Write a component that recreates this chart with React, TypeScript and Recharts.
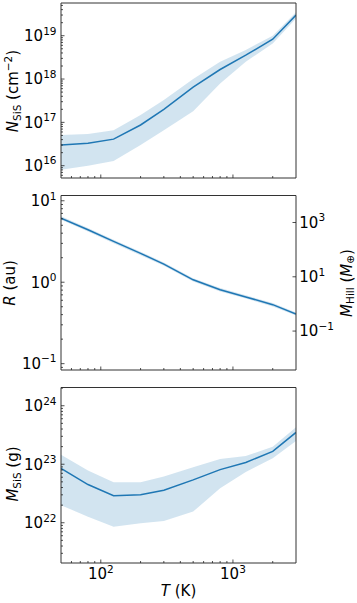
import React from "react";
import { ComposedChart, Line, Area, XAxis, YAxis } from "recharts";

// ---------------- data ----------------
const temperatureK = [50, 80, 125, 200, 300, 500, 800, 1250, 2000, 3000];

const columnDensity = [3.0e16, 3.3e16, 4.1e16, 8.7e16, 2.0e17, 6.5e17, 1.66e18, 3.55e18, 8.3e18, 3.0e19];
const columnDensityHigh = [5.1e16, 5.4e16, 6.6e16, 1.48e17, 3.3e17, 1.0e18, 2.5e18, 4.7e18, 1.0e19, 3.5e19];
const columnDensityLow = [8.1e15, 1.0e16, 1.29e16, 3.0e16, 6.6e16, 1.8e17, 7.9e17, 2.5e18, 6.6e18, 2.5e19];

const radiusAu = [6.13, 4.41, 3.17, 2.26, 1.67, 1.07, 0.81, 0.66, 0.53, 0.407];
const radiusHigh = [6.45, 4.63, 3.33, 2.37, 1.75, 1.12, 0.85, 0.69, 0.555, 0.425];
const radiusLow = [5.85, 4.2, 3.02, 2.15, 1.59, 1.02, 0.77, 0.63, 0.505, 0.39];

const massG = [8.5e22, 4.5e22, 2.9e22, 3.0e22, 3.6e22, 5.4e22, 8.1e22, 1.07e23, 1.66e23, 3.5e23];
const massHigh = [1.45e23, 7.8e22, 4.9e22, 4.9e22, 6.2e22, 8.9e22, 1.23e23, 1.38e23, 2.0e23, 4.3e23];
const massLow = [2.0e22, 1.26e22, 8.5e21, 9.8e21, 1.07e22, 1.55e22, 3.9e22, 7.4e22, 1.26e23, 2.5e23];

// tick values
const xMajorTicks = [100, 1000];
const densityMajorTicks = [1e16, 1e17, 1e18, 1e19];
const radiusMajorTicks = [0.1, 1, 10];
const hillMajorTicks = [0.1, 10, 1000];
const massMajorTicks = [1e22, 1e23, 1e24];

// axis ranges
const X_DOMAIN: [number, number] = [50, 3000];
const DENSITY_DOMAIN: [number, number] = [5.2e15, 5.69e19];
const RADIUS_DOMAIN: [number, number] = [0.0836, 11.61];
const HILL_DOMAIN: [number, number] = [0.00368, 9886];
const MASS_DOMAIN: [number, number] = [2.05e21, 2.05e24];

// ---------------- helpers ----------------
const W = 357;
const H = 603;
const LEFT_W = 61;
const RIGHT_W = 61;
const FONT = "DejaVu Sans, sans-serif";
const TICK_COLOR = "#222";
const BLUE = "#1f77b4";
const axisLineStyle = { stroke: "#333", strokeWidth: 1 };

function isMajor(v: number) {
  const l = Math.log10(v);
  return Math.abs(l - Math.round(l)) < 1e-6;
}

function withMinors(majors: number[], domain: [number, number]) {
  const out: number[] = [...majors];
  const lo = Math.floor(Math.log10(domain[0]));
  const hi = Math.ceil(Math.log10(domain[1]));
  for (let d = lo; d <= hi; d++) {
    for (let m = 2; m <= 9; m++) {
      const v = m * Math.pow(10, d);
      if (v > domain[0] && v < domain[1]) out.push(v);
    }
  }
  return out.sort((a, b) => a - b);
}

function buildRows(mid: number[], lo: number[], hi: number[]) {
  return temperatureK.map((T, i) => ({ T, mid: mid[i], lo: lo[i], hi: hi[i] }));
}

const densityRows = buildRows(columnDensity, columnDensityLow, columnDensityHigh);
const radiusRows = buildRows(radiusAu, radiusLow, radiusHigh);
const massRows = buildRows(massG, massLow, massHigh);

function expText(v: number) {
  const e = Math.round(Math.log10(v));
  return e < 0 ? "\u2212" + String(-e) : String(e);
}

function PowerLabel({ x, y, anchor, v }: { x: number; y: number; anchor: string; v: number }) {
  return (
    <text x={x} y={y} textAnchor={anchor as any} fontSize={15} fontFamily={FONT} fill="#000">
      <tspan>10</tspan>
      <tspan dy={-6.5} fontSize={10.5}>
        {expText(v)}
      </tspan>
    </text>
  );
}

function LeftTick(props: any) {
  const { x, y, payload } = props;
  const v = payload.value;
  const major = isMajor(v);
  const len = major ? 3.5 : 2;
  return (
    <g>
      <line x1={x} y1={y} x2={x + len} y2={y} stroke={TICK_COLOR} strokeWidth={0.8} />
      {major && <PowerLabel x={x - 4.5} y={y + 5.3} anchor="end" v={v} />}
    </g>
  );
}

function RightTick(props: any) {
  const { x, y, payload } = props;
  const v = payload.value;
  const major = isMajor(v);
  const len = major ? 3.5 : 2;
  return (
    <g>
      <line x1={x} y1={y} x2={x - len} y2={y} stroke={TICK_COLOR} strokeWidth={0.8} />
      {major && <PowerLabel x={x + 3.3} y={y + 5.3} anchor="start" v={v} />}
    </g>
  );
}

function makeBottomTick(showLabels: boolean) {
  return (props: any) => {
    const { x, y, payload } = props;
    const v = payload.value;
    const major = isMajor(v);
    const len = major ? 3.5 : 2;
    return (
      <g>
        <line x1={x} y1={y} x2={x} y2={y - len} stroke={TICK_COLOR} strokeWidth={0.8} />
        {major && showLabels && <PowerLabel x={x} y={y + 16} anchor="middle" v={v} />}
      </g>
    );
  };
}

const xTicks = withMinors(xMajorTicks, X_DOMAIN);

type PanelProps = {
  top: number;
  bottom: number;
  data: any[];
  yDomain: [number, number];
  yMajor: number[];
  yTitle: () => React.ReactElement;
  showXLabels: boolean;
  rightDomain?: [number, number];
  rightMajor?: number[];
  rightTitle?: () => React.ReactElement;
  xTitle?: () => React.ReactElement;
};

function Panel(p: PanelProps) {
  const yTicks = withMinors(p.yMajor, p.yDomain);
  return (
    <div style={{ position: "absolute", left: 0, top: 0, width: W, height: H }}>
      <ComposedChart
        width={W}
        height={H}
        data={p.data}
        margin={{ top: p.top - 1, bottom: H - p.bottom - 1, left: 0, right: 0 }}
      >
        <XAxis
          xAxisId="x"
          dataKey="T"
          type="number"
          scale="log"
          domain={X_DOMAIN}
          allowDataOverflow
          ticks={xTicks}
          interval={0}
          height={1}
          tickSize={0}
          tickMargin={0}
          tickLine={false}
          axisLine={axisLineStyle}
          tick={makeBottomTick(p.showXLabels)}
          label={p.xTitle ? { content: p.xTitle } : undefined}
        />
        <XAxis
          xAxisId="top"
          orientation="top"
          type="number"
          scale="log"
          domain={X_DOMAIN}
          allowDataOverflow
          height={1}
          tick={false}
          tickLine={false}
          axisLine={axisLineStyle}
        />
        <YAxis
          yAxisId="y"
          type="number"
          scale="log"
          domain={p.yDomain}
          allowDataOverflow
          ticks={yTicks}
          interval={0}
          width={LEFT_W}
          tickSize={0}
          tickMargin={0}
          tickLine={false}
          axisLine={axisLineStyle}
          tick={LeftTick}
          label={{ content: p.yTitle }}
        />
        {p.rightDomain ? (
          <YAxis
            yAxisId="r"
            orientation="right"
            type="number"
            scale="log"
            domain={p.rightDomain}
            allowDataOverflow
            ticks={p.rightMajor}
            interval={0}
            width={RIGHT_W}
            tickSize={0}
            tickMargin={0}
            tickLine={false}
            axisLine={axisLineStyle}
            tick={RightTick}
            label={p.rightTitle ? { content: p.rightTitle } : undefined}
          />
        ) : (
          <YAxis
            yAxisId="r"
            orientation="right"
            type="number"
            domain={[0, 1]}
            width={RIGHT_W}
            tick={false}
            tickLine={false}
            axisLine={axisLineStyle}
          />
        )}
        <Area
          xAxisId="x"
          yAxisId="y"
          type="linear"
          dataKey={(d: any) => [d.lo, d.hi]}
          stroke="none"
          fill={BLUE}
          fillOpacity={0.2}
          isAnimationActive={false}
          activeDot={false}
        />
        <Line
          xAxisId="x"
          yAxisId="y"
          type="linear"
          dataKey="mid"
          stroke={BLUE}
          strokeWidth={1.5}
          dot={false}
          activeDot={false}
          isAnimationActive={false}
        />
      </ComposedChart>
    </div>
  );
}

const SUB = 10.5;

const densityTitle = () => (
  <text transform="rotate(-90 18.3 91)" x={18.3} y={91} textAnchor="middle" fontSize={15} fontFamily={FONT} fill="#000">
    <tspan fontStyle="italic">N</tspan>
    <tspan fontSize={SUB} dy={2.5}>SiS</tspan>
    <tspan dy={-2.5}> (cm</tspan>
    <tspan fontSize={SUB} dy={-6.5}>{"\u22122"}</tspan>
    <tspan dy={6.5}>)</tspan>
  </text>
);

const radiusTitle = () => (
  <text transform="rotate(-90 15 283)" x={15} y={283} textAnchor="middle" fontSize={15} fontFamily={FONT} fill="#000">
    <tspan fontStyle="italic">R</tspan>
    <tspan> (au)</tspan>
  </text>
);

const hillTitle = () => (
  <text transform="rotate(-90 351.5 283)" x={351.5} y={283} textAnchor="middle" fontSize={15} fontFamily={FONT} fill="#000">
    <tspan fontStyle="italic">M</tspan>
    <tspan fontSize={SUB} dy={2}>Hill</tspan>
    <tspan dy={-2}> (</tspan>
    <tspan fontStyle="italic">M</tspan>
    <tspan fontSize={SUB} dy={2}>{"\u2295"}</tspan>
    <tspan dy={-2}>)</tspan>
  </text>
);

const massTitle = () => (
  <text transform="rotate(-90 18.3 474)" x={18.3} y={474} textAnchor="middle" fontSize={15} fontFamily={FONT} fill="#000">
    <tspan fontStyle="italic">M</tspan>
    <tspan fontSize={SUB} dy={2.5}>SiS</tspan>
    <tspan dy={-2.5}> (g)</tspan>
  </text>
);

const tempTitle = () => (
  <text x={178.5} y={595.5} textAnchor="middle" fontSize={15} fontFamily={FONT} fill="#000">
    <tspan fontStyle="italic">T</tspan>
    <tspan> (K)</tspan>
  </text>
);

export default function App() {
  return (
    <div style={{ position: "absolute", left: 0, top: 0, width: W, height: H, background: "#fff" }}>
      <Panel
        top={3}
        bottom={178}
        data={densityRows}
        yDomain={DENSITY_DOMAIN}
        yMajor={densityMajorTicks}
        yTitle={densityTitle}
        showXLabels={false}
      />
      <Panel
        top={195.5}
        bottom={370}
        data={radiusRows}
        yDomain={RADIUS_DOMAIN}
        yMajor={radiusMajorTicks}
        yTitle={radiusTitle}
        showXLabels={false}
        rightDomain={HILL_DOMAIN}
        rightMajor={hillMajorTicks}
        rightTitle={hillTitle}
      />
      <Panel
        top={387.5}
        bottom={563}
        data={massRows}
        yDomain={MASS_DOMAIN}
        yMajor={massMajorTicks}
        yTitle={massTitle}
        showXLabels={true}
        xTitle={tempTitle}
      />
    </div>
  );
}
